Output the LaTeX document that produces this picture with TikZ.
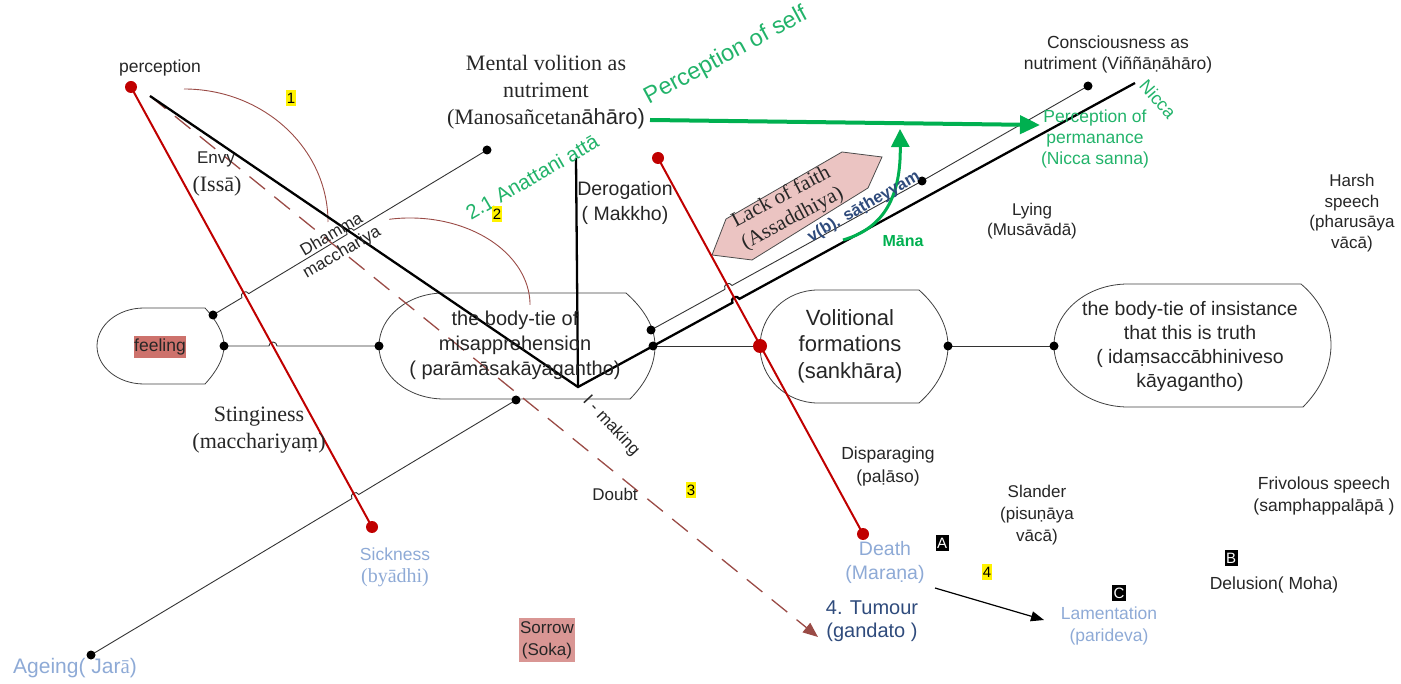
\documentclass[tikz,border=0pt]{standalone}
\usepackage{fontspec}
\setmainfont{Liberation Sans}
\newfontfamily\tnr{Liberation Serif}
\usetikzlibrary{arrows.meta}
\definecolor{txt}{HTML}{262626}
\definecolor{myred}{HTML}{C00000}
\definecolor{grn}{HTML}{00B050}
\definecolor{grntxt}{HTML}{22B36A}
\definecolor{brn}{HTML}{9A4B46}
\definecolor{lblue}{HTML}{8EAAD6}
\definecolor{dblue}{HTML}{2F4B7C}
\definecolor{pinkbox}{HTML}{D99694}
\definecolor{feelbox}{HTML}{CD726C}
\definecolor{hexfill}{HTML}{EBC4C2}
\newcommand\fsz[2]{\fontsize{#1}{#2}\selectfont}
\begin{document}
\begin{tikzpicture}[x=1pt,y=-1pt,
  lbl/.style={align=center,inner sep=0pt,text=txt},
  shp/.style={draw=black!75,line width=0.8pt},
  thinl/.style={draw=black!80,line width=0.9pt},
  thickl/.style={draw=black,line width=2.3pt},
  redl/.style={draw=myred,line width=2pt},
  brnarc/.style={draw=brn,line width=0.9pt},
  yel/.style={fill=yellow,text=black,inner xsep=1pt,inner ysep=2.5pt,font=\fsz{15}{17}},
  blk/.style={fill=black,text=white,inner xsep=1.5pt,inner ysep=2.5pt,font=\fsz{15}{17}},
]
\useasboundingbox (0,0) rectangle (1401,684);

% ---------- coordinates ----------
\coordinate (perc) at (131,87);
\coordinate (start) at (150,96);
\coordinate (sick) at (372,527);
\coordinate (rtop) at (658,158);
\coordinate (death) at (863,534);
\coordinate (volL) at (760,346);
\coordinate (feelU) at (213,315);
\coordinate (feelR) at (224,346);
\coordinate (misL) at (379,346);
\coordinate (dham) at (487,150);
\coordinate (misRU) at (651,330);
\coordinate (misR) at (653,346);
\coordinate (misB) at (516,400);
\coordinate (volR) at (948,346);
\coordinate (insL) at (1054,346);
\coordinate (mid) at (922,181);
\coordinate (cons) at (1088,86);
\coordinate (age) at (91,655);
\coordinate (vtx) at (578,387);
\coordinate (derTop) at (576,158);
\coordinate (nicc) at (1135,83);
\coordinate (dashEnd) at (818,637);
\coordinate (gStart) at (650,120);
\coordinate (gEnd) at (1040,125);
\coordinate (mStart) at (843,240);
\coordinate (mEnd) at (900,129);
\coordinate (dArr) at (935,588);
\coordinate (lArr) at (1044,620);

% ---------- shapes ----------
% feeling
\draw[shp] (144,384) arc[start angle=90,end angle=270,x radius=47,y radius=38]
  -- (205,308) .. controls (216,320) and (224,333) .. (224,346)
  .. controls (224,359) and (216,372) .. (205,384) -- cycle;
% misapprehension
\draw[shp] (444,399) arc[start angle=90,end angle=270,x radius=65,y radius=53]
  -- (626,293) .. controls (643,308) and (655,326) .. (655,346)
  .. controls (655,366) and (645,384) .. (630,399) -- cycle;
% volitional
\draw[shp] (818,403) arc[start angle=90,end angle=270,x radius=58,y radius=56.5]
  -- (919,290) .. controls (936,305) and (948,325) .. (948,346)
  .. controls (948,368) and (936,388) .. (919,403) -- cycle;
% insistance
\draw[shp] (1128,407) arc[start angle=90,end angle=270,x radius=74,y radius=61.5]
  -- (1301,284) .. controls (1320,300) and (1331,322) .. (1331,345)
  .. controls (1331,368) and (1320,390) .. (1303,407) -- cycle;
% lack of faith hexagon
\filldraw[fill=hexfill,draw=black!70,line width=0.8pt]
  (712,255) -- (726,219) -- (842,152) -- (882,157) -- (868,188) -- (752,260) -- cycle;

% ---------- brown arcs ----------
\draw[brnarc] (184,89) arc[start angle=-90,end angle=0,x radius=144,y radius=133];
\draw[brnarc] (389.2,219.3) arc[start angle=-100,end angle=0,x radius=120,y radius=87];

% ---------- thin lines (with line jumps) ----------
\draw[thinl] (feelR) -- (269,346) arc[start angle=180,end angle=360,radius=4] -- (misL);
\draw[thinl] (feelU) -- (241.9,297.7) arc[start angle=149,end angle=329,radius=4]
  -- (347.0,234.4) arc[start angle=149,end angle=329,radius=4] -- (dham);
\draw[thinl] (age) -- (351.9,498.6) arc[start angle=149,end angle=329,radius=4] -- (misB);
\draw[thinl] (misR) -- (volL);
\draw[thinl] (volR) -- (insL);
\draw[thinl] (misRU) -- (725.0,289.3) arc[start angle=151.2,end angle=331.2,radius=4]
  -- (mid) -- (cons);

% ---------- dashed arrow ----------
\draw[draw=brn,line width=1.3pt,dash pattern=on 20pt off 12pt,
  -{Triangle[length=15pt,width=12pt,fill=brn]}] (start) -- (dashEnd);

% ---------- thick lines ----------
\draw[thickl,line join=miter] (start) -- (vtx) -- (732.4,302.7)
  arc[start angle=151.4,end angle=331.4,radius=4] -- (nicc);
\draw[thickl] (derTop) -- (vtx);

% ---------- red lines ----------
\draw[redl] (perc) -- (sick);
\draw[redl] (rtop) -- (death);

% ---------- green arrows ----------
\draw[draw=grn,line width=4pt,-{Triangle[length=20pt,width=18pt]}] (gStart) -- (gEnd);
\draw[draw=grn,line width=3pt,-{Triangle[length=18pt,width=18pt]}]
  (mStart) .. controls (885,228) and (901,195) .. (mEnd);

% ---------- black arrow ----------
\draw[draw=black,line width=1.2pt,-{Triangle[length=13pt,width=10pt]}] (dArr) -- (lArr);

% ---------- dots ----------
\foreach \p in {feelU,feelR,misL,dham,misRU,misR,misB,volR,insL,mid,cons,age}
  \fill[black] (\p) circle (4.5pt);
\foreach \p in {perc,sick,rtop,death}
  \fill[myred] (\p) circle (6pt);
\fill[myred] (volL) circle (7pt);

% ---------- texts ----------
\node[lbl,font=\fsz{17.5}{20}] (tperc) at (160,68) {perception};
\node[yel] (n1) at (291,98) {1};
\node[lbl,font=\fsz{17}{20}] (tenvy) at (216,159) {Envy};
\node[lbl,font=\tnr\fsz{22}{24}] (tissa) at (217,186) {(Issā)};
\node[lbl,font=\tnr\fsz{22}{27}] (tmental) at (546,92)
  {Mental volition as\\nutriment\\(Manosañcetan{\rmfamily āhāro)}};
\node[lbl,text=grntxt,font=\fsz{23.5}{26},rotate=28.3] (tpself) at (726,56) {Perception of self};
\node[lbl,text=grntxt,font=\fsz{20.5}{24},rotate=30] (tanat) at (532,177) {2.1 Anattani attā};
\node[yel] (n2) at (497,214) {2};
\node[lbl,font=\fsz{19.5}{25}] (tderog) at (625,203) {Derogation\\( Makkho)};
\node[lbl,font=\tnr\fsz{21}{24},rotate=28] (tlack) at (787,208) {Lack of faith\\(Assaddhiya)};
\node[lbl,text=dblue,font=\bfseries\fsz{16.5}{19},rotate=30] (tsath) at (864,207) {v(b). sāṭheyyam};
\node[lbl,text=grn,font=\bfseries\fsz{16}{19}] (tmana) at (903,241) {Māna};
\node[lbl,font=\fsz{17.5}{21}] (tcons) at (1118,54) {Consciousness as\\nutriment (Viññāṇāhāro)};
\node[lbl,text=grntxt,font=\fsz{17.5}{21}] (tperm) at (1095,139) {Perception of\\permanance\\(Nicca sanna)};
\node[lbl,text=grntxt,font=\fsz{18}{20},rotate=-49] (tnicca) at (1158,99) {Nicca};
\node[lbl,font=\fsz{17}{20.5}] (tharsh) at (1352,213) {Harsh\\speech\\(pharusāya\\vācā)};
\node[lbl,font=\fsz{17}{20.5}] (tlying) at (1032,221) {Lying\\(Musāvādā)};
\node[lbl,font=\fsz{20}{25}] (tmis) at (515,345) {the body-tie of\\misapprehension\\( parāmāsakāyagantho)};
\node[lbl,font=\fsz{22}{26.5}] (tvol) at (850,346) {Volitional\\formations\\(sankhāra)};
\node[lbl,font=\fsz{19.5}{24}] (tins) at (1190,346) {the body-tie of insistance\\that this is truth\\( idaṃsaccābhiniveso\\kāyagantho)};
\node[lbl,fill=feelbox,inner ysep=3pt,font=\fsz{17.5}{20}] (tfeel) at (160,347) {feeling};
\node[lbl,font=\tnr\fsz{22}{26.5}] (tsting) at (259,430) {Stinginess\\(macchariyaṃ)};
\node[lbl,font=\fsz{17}{20},rotate=-47] (tmak) at (611,426) {I - making};
\node[lbl,font=\fsz{17}{20}] (tdoubt) at (615,494) {Doubt};
\node[yel] (n3) at (691,490) {3};
\node[lbl,font=\fsz{17.5}{23}] (tdisp) at (888,466) {Disparaging\\(paḷāso)};
\node[lbl,text=lblue,font=\fsz{17.5}{20}] (tsick) at (395,554) {Sickness};
\node[lbl,text=lblue,font=\tnr\fsz{20}{22}] (tbyadhi) at (395,578) {(byādhi)};
\node[lbl,text=lblue,font=\fsz{21}{24}] (tage) at (75,668) {Ageing( Jar{\tnr ā})};
\node[lbl,fill=pinkbox,inner xsep=1.5pt,inner ysep=3pt,font=\fsz{17}{22}] (tsorrow) at (547,640) {Sorrow\\(Soka)};
\node[lbl,text=lblue,font=\fsz{19.5}{24}] (tdeath) at (885,562) {Death\\(Maraṇa)};
\node[lbl,text=dblue,font=\fsz{20}{23}] (ttum) at (872,621) {4. Tumour\\(gandato )};
\node[blk] (nA) at (942,543) {A};
\node[blk] (nB) at (1231,558) {B};
\node[blk] (nC) at (1119,593) {C};
\node[yel] (n4) at (987,572) {4};
\node[lbl,font=\fsz{17}{22}] (tsland) at (1037,515) {Slander\\(pisuṇāya\\vācā)};
\node[lbl,font=\fsz{17.5}{22}] (tfriv) at (1324,496) {Frivolous speech\\(samphappalāpā )};
\node[lbl,text=lblue,font=\fsz{17.5}{22}] (tlam) at (1109,626) {Lamentation\\(parideva)};
\node[lbl,font=\fsz{17.5}{20}] (tdel) at (1274,585) {Delusion( Moha)};
\node[lbl,font=\fsz{17}{20},rotate=30.5] (tdham) at (337,244) {Dhamma\\macchariya};
\end{tikzpicture}
\end{document}
